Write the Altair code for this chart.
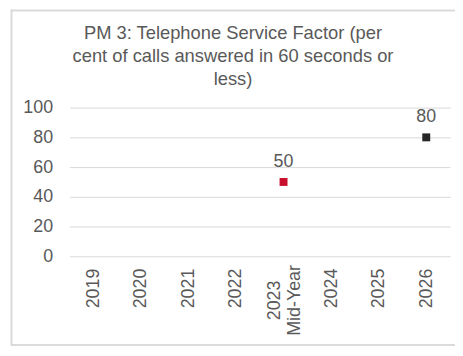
import altair as alt
import pandas as pd

# ---- data ----
categories = ["2019", "2020", "2021", "2022", "2023\nMid-Year", "2024", "2025", "2026"]
point_cats = ["2023\nMid-Year", "2026"]
point_vals = [50, 80]
point_series = ["Actual", "Target"]
series_names = ["Actual", "Target"]
series_colors = ["#c8102e", "#262626"]
y_ticks = [0, 20, 40, 60, 80, 100]
title_lines = ["PM 3: Telephone Service Factor (per",
               "cent of calls answered in 60 seconds or",
               "less)"]
title_y = [-75, -52, -29]

df = pd.DataFrame({"cat": point_cats, "val": point_vals, "series": point_series})

FONT = "Liberation Sans"
TXT = "#595959"
GRID = "#d9d9d9"
MULTI = "indexof(datum.value, 'Mid') >= 0"

x_enc = alt.X(
    "cat:N",
    scale=alt.Scale(domain=categories, type="point", padding=0.5),
    axis=alt.Axis(
        title=None, labelAngle=270,
        labelAlign={"condition": {"test": MULTI, "value": "center"}, "value": "right"},
        labelPadding={"condition": {"test": MULTI, "value": 44}, "value": 12},
        labelOffset={"condition": {"test": MULTI, "value": -9}, "value": 0},
        labelBaseline="middle",
        labelExpr="split(datum.label, '\\n')", labelLineHeight=20,
        domain=False, ticks=False, grid=False,
        labelFont=FONT, labelFontSize=18, labelColor=TXT,
    ),
)
y_enc = alt.Y(
    "val:Q",
    scale=alt.Scale(domain=[0, 100], nice=False),
    axis=alt.Axis(
        title=None, values=y_ticks, domain=False, ticks=False,
        gridColor=GRID, gridWidth=1, labelPadding=17,
        labelFont=FONT, labelFontSize=18, labelColor=TXT,
    ),
)

points = alt.Chart(df).mark_square(size=64, opacity=1).encode(
    x=x_enc, y=y_enc,
    color=alt.Color("series:N", scale=alt.Scale(domain=series_names, range=series_colors), legend=None),
)
labels = alt.Chart(df).mark_text(
    dy=-15, baseline="alphabetic", font=FONT, fontSize=18, color=TXT
).encode(x=x_enc, y=y_enc, text=alt.Text("val:Q"))

title_df = pd.DataFrame({"t": title_lines, "y": title_y})
title = alt.Chart(title_df).mark_text(
    font=FONT, fontSize=18.5, color=TXT, align="center", baseline="middle"
).encode(x=alt.value(165), y=alt.Y("y:Q", scale=None), text="t:N")

frame_left = alt.Chart(df).mark_rule(color=GRID, strokeWidth=1.5).encode(
    x=alt.value(-58.5), y=alt.value(-99), y2=alt.value(240))
frame_top = alt.Chart(df).mark_rule(color=GRID, strokeWidth=1.5).encode(
    x=alt.value(-59), x2=alt.value(389), y=alt.value(-98))
frame_bottom = alt.Chart(df).mark_rule(color=GRID, strokeWidth=1.5).encode(
    x=alt.value(-59), x2=alt.value(389), y=alt.value(239.5))

chart = alt.layer(frame_left, frame_top, frame_bottom, title, points, labels).properties(
    width=384, height=150,
    autosize=alt.AutoSizeParams(type="none"),
    padding={"left": 62, "top": 99, "right": 5, "bottom": 90},
).configure_view(stroke=None)

chart.save("out.html", embed_options={"renderer": "svg", "actions": False})
